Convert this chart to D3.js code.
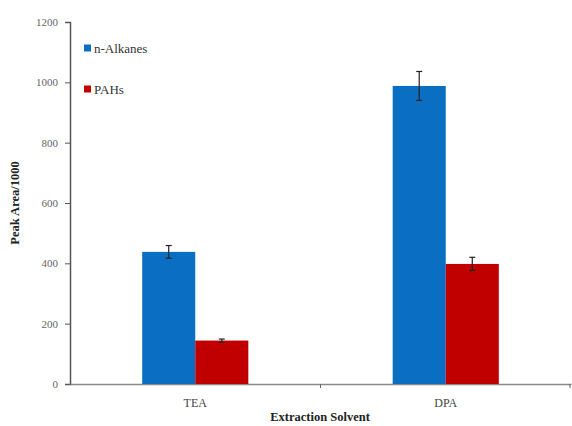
<!DOCTYPE html>
<html>
<head>
<meta charset="utf-8">
<script src="https://cdn.jsdelivr.net/npm/d3@7"></script>
<style>
  body { margin: 0; background: #fff; }
  text { font-family: "Liberation Serif", "Times New Roman", serif; }
</style>
</head>
<body>
<div id="chart"></div>
<script>
const categories = ['TEA', 'DPA'];
const seriesNames = ['n-Alkanes', 'PAHs'];
const alkanes = [438, 988];
const alkanesErr = [21, 48];
const pahs = [144, 398];
const pahsErr = [5, 22];
const yTicks = [0, 200, 400, 600, 800, 1000, 1200];

const width = 572, height = 426;
const margin = { top: 22, right: 1, bottom: 42, left: 70 };
const colors = ['#0a6fc2', '#c00000'];

const svg = d3.select('#chart').append('svg')
  .attr('width', width)
  .attr('height', height);

const x = d3.scaleBand()
  .domain(categories)
  .range([margin.left, width - margin.right]);

const inner = d3.scaleBand()
  .domain(seriesNames)
  .range([0, x.bandwidth()])
  .paddingInner(0)
  .paddingOuter(1.36);

const y = d3.scaleLinear()
  .domain([0, 1200])
  .range([height - margin.bottom, margin.top]);

// Y axis
const yAxis = svg.append('g')
  .attr('transform', `translate(${margin.left},0)`)
  .call(d3.axisLeft(y).tickValues(yTicks).tickFormat(d3.format('d')).tickSize(5).tickPadding(7));
yAxis.attr('font-family', null);
yAxis.select('.domain').attr('stroke', '#555').attr('stroke-width', 1.5);
yAxis.selectAll('.tick line').attr('stroke', '#555');
yAxis.selectAll('.tick text').attr('fill', '#666').style('font-size', '11px');

// X axis
const xAxis = svg.append('g')
  .attr('transform', `translate(0,${y(0)})`)
  .call(d3.axisBottom(x).tickSize(0).tickPadding(14));
xAxis.attr('font-family', null);
xAxis.select('.domain').attr('stroke', '#888').attr('stroke-width', 1.5);
xAxis.selectAll('.tick text').attr('fill', '#444').style('font-size', '12px');

// category boundary ticks
svg.append('g').selectAll('line')
  .data([x.range()[0] + x.bandwidth(), x.range()[1] - 1])
  .enter().append('line')
  .attr('x1', d => d).attr('x2', d => d)
  .attr('y1', y(0)).attr('y2', y(0) + 4)
  .attr('stroke', '#666');

const series = [
  { name: seriesNames[0], values: alkanes, err: alkanesErr, color: colors[0] },
  { name: seriesNames[1], values: pahs, err: pahsErr, color: colors[1] }
];

series.forEach(s => {
  const g = svg.append('g');
  g.selectAll('rect')
    .data(categories)
    .enter().append('rect')
    .attr('x', (c) => x(c) + inner(s.name))
    .attr('y', (c, i) => y(s.values[i]))
    .attr('width', inner.bandwidth())
    .attr('height', (c, i) => y(0) - y(s.values[i]))
    .attr('fill', s.color);

  // error bars
  categories.forEach((c, i) => {
    const cx = x(c) + inner(s.name) + inner.bandwidth() / 2;
    g.append('line')
      .attr('x1', cx).attr('x2', cx)
      .attr('y1', y(s.values[i] + s.err[i])).attr('y2', y(s.values[i] - s.err[i]))
      .attr('stroke', '#222').attr('stroke-width', 1.2);
    [s.values[i] + s.err[i], s.values[i] - s.err[i]].forEach(v => {
      g.append('line')
        .attr('x1', cx - 3).attr('x2', cx + 3)
        .attr('y1', y(v)).attr('y2', y(v))
        .attr('stroke', '#222').attr('stroke-width', 1.2);
    });
  });
});

// Legend
const legend = svg.append('g');
series.forEach((s, i) => {
  const ly = 48 + i * 41;
  legend.append('rect')
    .attr('x', 84).attr('y', ly - 3.5)
    .attr('width', 7).attr('height', 7)
    .attr('fill', s.color);
  legend.append('text')
    .attr('x', 94).attr('y', ly)
    .attr('dy', '0.35em')
    .style('font-size', '13px')
    .attr('fill', '#333')
    .text(s.name);
});

// Axis labels
svg.append('text')
  .attr('transform', 'rotate(-90)')
  .attr('x', -(y(0) + y(1200)) / 2)
  .attr('y', 19)
  .style('text-anchor', 'middle')
  .style('font-size', '12.5px')
  .style('font-weight', 'bold')
  .attr('fill', '#222')
  .text('Peak Area/1000');

svg.append('text')
  .attr('x', 320)
  .attr('y', 421)
  .style('text-anchor', 'middle')
  .style('font-size', '12.5px')
  .style('font-weight', 'bold')
  .attr('fill', '#222')
  .text('Extraction Solvent');
</script>
</body>
</html>
